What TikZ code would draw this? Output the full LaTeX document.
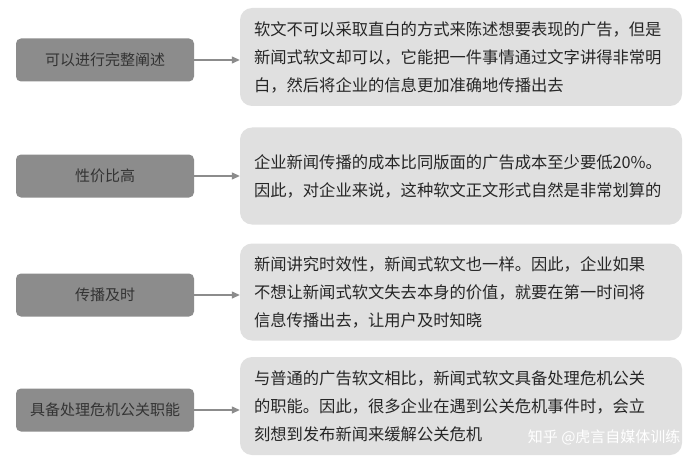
\documentclass[tikz,border=0pt]{standalone}
\usepackage{fontspec}
\newfontfamily\cjk{Noto Sans CJK SC}
\usetikzlibrary{arrows.meta}
\begin{document}
\begin{tikzpicture}[x=1pt,y=-1pt,
 lbox/.style={draw=none,fill=black!45,rounded corners=5pt,minimum width=178pt,minimum height=43pt,font=\cjk\fontsize{15}{16}\selectfont,text=black!80},
 rbox/.style={draw=none,fill=black!12,rounded corners=12pt,minimum width=442pt,text width=414pt,align=left,font=\cjk\fontsize{16.3}{28}\selectfont,text=black!85,inner xsep=14pt,inner ysep=6pt},
 arr/.style={draw=black!45,line width=1.3pt,-{Triangle[length=8pt,width=7pt]}}]
\useasboundingbox (0,0) rectangle (692,465);
\fill[white] (0,0) rectangle (692,465);
\node[lbox] (l1) at (105,60) {可以进行完整阐述};
\node[lbox] (l2) at (105,176) {性价比高};
\node[lbox] (l3) at (105,295) {传播及时};
\node[lbox] (l4) at (105,410) {具备处理危机公关职能};
\node[rbox,minimum height=98pt] (r1) at (461,57) {软文不可以采取直白的方式来陈述想要表现的广告，但是\\新闻式软文却可以，它能把一件事情通过文字讲得非常明\\白，然后将企业的信息更加准确地传播出去};
\node[rbox,minimum height=97pt] (r2) at (461,176) {企业新闻传播的成本比同版面的广告成本至少要低20\%。\\因此，对企业来说，这种软文正文形式自然是非常划算的};
\node[rbox,minimum height=97pt] (r3) at (461,292) {新闻讲究时效性，新闻式软文也一样。因此，企业如果\\不想让新闻式软文失去本身的价值，就要在第一时间将\\信息传播出去，让用户及时知晓};
\node[rbox,minimum height=98pt] (r4) at (461,406) {与普通的广告软文相比，新闻式软文具备处理危机公关\\的职能。因此，很多企业在遇到公关危机事件时，会立\\刻想到发布新闻来缓解公关危机};
\foreach \i in {1,2,3,4} \draw[arr] (l\i.east) -- (l\i.east -| r\i.west);
\node[font=\cjk\fontsize{15}{16}\selectfont,text=white,anchor=east] (wm) at (684,437) {知乎 @虎言自媒体训练};
\end{tikzpicture}
\end{document}
